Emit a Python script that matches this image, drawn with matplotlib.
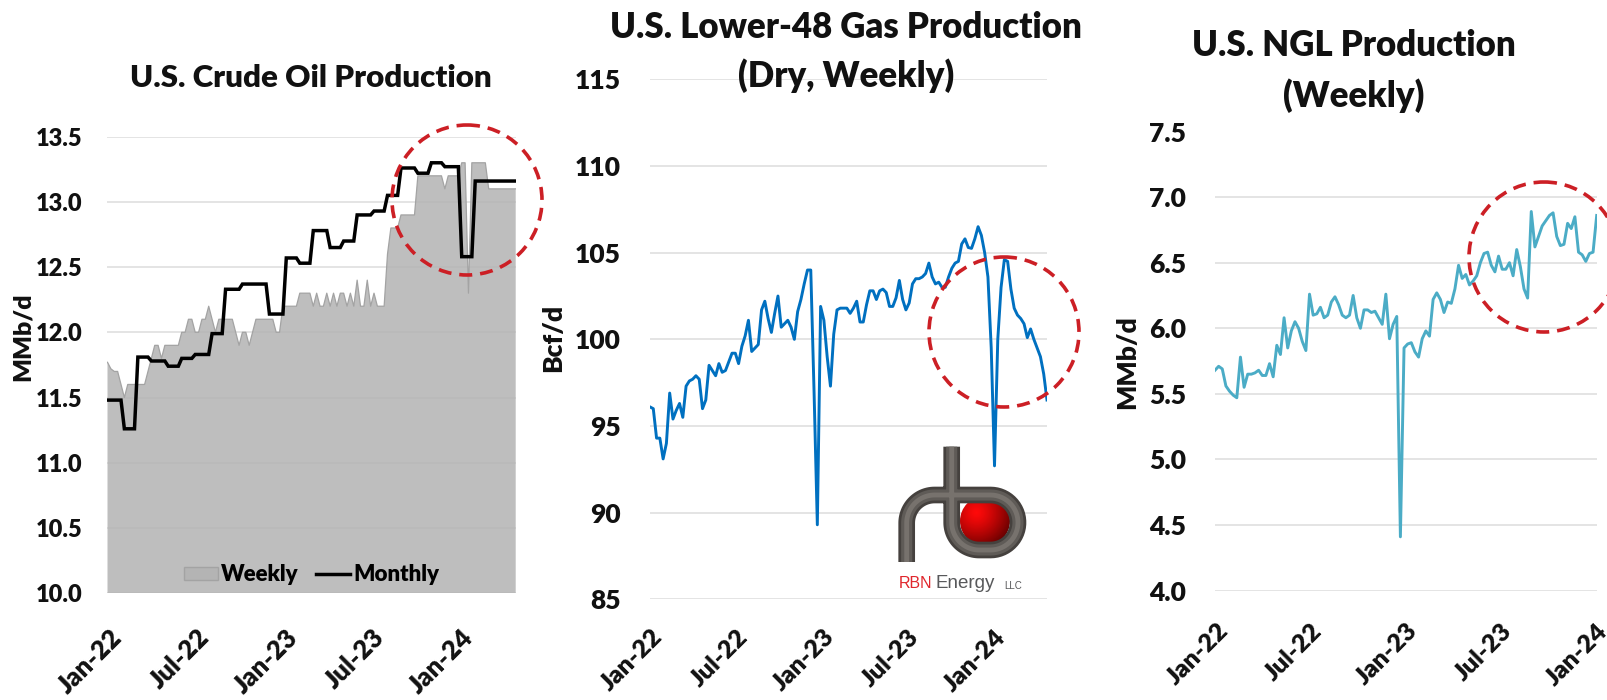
import numpy as np
import pandas as pd
import matplotlib
matplotlib.use("Agg")
import matplotlib.pyplot as plt
from matplotlib.patches import Circle, Patch
from matplotlib.lines import Line2D
from matplotlib.transforms import ScaledTranslation

plt.rcParams['font.family'] = ['Lato', 'DejaVu Sans']
plt.rcParams['font.weight'] = 'heavy'

# ---------------- data ----------------
start_date = "2021-12-31"   # weekly series (EIA weeks ending Friday)

crude_weekly = [
    11.77, 11.72, 11.7, 11.7, 11.6, 11.5, 11.6, 11.6, 11.6, 11.6, 11.6, 11.6,
    11.7, 11.8, 11.9, 11.9, 11.8, 11.9, 11.9, 11.9, 11.9, 11.9, 12.0, 12.0,
    12.1, 12.1, 12.0, 12.0, 12.1, 12.1, 12.2, 12.1, 12.0, 12.1, 12.1, 12.1,
    12.1, 12.1, 12.0, 11.9, 12.0, 12.0, 11.9, 12.0, 12.1, 12.1, 12.1, 12.1,
    12.1, 12.1, 12.0, 12.0, 12.2, 12.2, 12.2, 12.2, 12.2, 12.3, 12.3, 12.3,
    12.3, 12.2, 12.3, 12.2, 12.2, 12.3, 12.2, 12.3, 12.2, 12.3, 12.3, 12.2,
    12.3, 12.2, 12.4, 12.2, 12.2, 12.4, 12.2, 12.3, 12.2, 12.2, 12.2, 12.6,
    12.8, 12.8, 12.8, 12.9, 12.9, 12.9, 12.9, 12.9, 13.2, 13.2, 13.2, 13.2,
    13.2, 13.2, 13.2, 13.2, 13.1, 13.2, 13.2, 13.2, 13.2, 13.3, 13.3, 12.3,
    13.3, 13.3, 13.3, 13.3, 13.3, 13.1, 13.1, 13.1, 13.1, 13.1, 13.1, 13.1,
    13.1, 13.1,
]

# monthly crude, Jan-22 .. Apr-24
crude_monthly = [
    11.48, 11.26, 11.81, 11.78, 11.74, 11.80, 11.83, 11.99, 12.33, 12.37,
    12.37, 12.14, 12.57, 12.53, 12.78, 12.65, 12.70, 12.90, 12.93, 13.05,
    13.26, 13.22, 13.30, 13.27, 12.58, 13.16, 13.16, 13.16,
]

gas_weekly = [
    96.1, 96.0, 94.3, 94.3, 93.1, 94.0, 96.9, 95.4, 95.9, 96.3, 95.5, 97.3,
    97.6, 97.7, 97.9, 97.7, 96.0, 96.5, 98.5, 98.2, 97.9, 98.6, 98.1, 98.2,
    98.7, 99.2, 99.2, 98.6, 99.6, 100.2, 101.1, 99.3, 99.5, 99.7, 101.7, 102.2,
    101.2, 100.4, 101.5, 102.5, 100.7, 100.9, 101.1, 100.7, 100.0, 101.6, 102.3, 103.2,
    104.0, 104.0, 97.0, 89.3, 101.9, 101.1, 99.0, 97.3, 100.3, 101.7, 101.8, 101.8,
    101.8, 101.5, 101.8, 102.2, 101.0, 101.0, 102.0, 102.8, 102.8, 102.3, 102.8, 102.9,
    102.7, 101.9, 101.9, 102.4, 103.4, 102.3, 101.7, 102.1, 103.2, 103.5, 103.5, 103.6,
    103.8, 104.4, 103.6, 103.2, 103.3, 103.0, 103.0, 103.6, 104.1, 104.4, 104.5, 105.5,
    105.8, 105.3, 105.25, 105.8, 106.5, 106.0, 105.0, 103.6, 99.5, 92.7, 100.0, 103.0,
    104.6, 104.5, 102.9, 101.8, 101.4, 101.2, 100.9, 100.1, 100.6, 100.0, 99.5, 99.0,
    98.0, 96.5,
]

ngl_weekly = [
    5.68, 5.71, 5.69, 5.56, 5.52, 5.49, 5.47, 5.78, 5.55, 5.65, 5.65, 5.66,
    5.68, 5.64, 5.64, 5.73, 5.63, 5.87, 5.80, 6.08, 5.85, 5.98, 6.05, 6.00,
    5.90, 5.83, 6.26, 6.10, 6.11, 6.16, 6.08, 6.10, 6.20, 6.24, 6.18, 6.10,
    6.08, 6.10, 6.25, 6.08, 6.00, 6.14, 6.14, 6.12, 6.13, 6.08, 6.03, 6.26,
    5.92, 6.03, 6.09, 4.41, 5.85, 5.88, 5.89, 5.82, 5.78, 5.92, 5.98, 5.94,
    6.22, 6.27, 6.22, 6.12, 6.20, 6.19, 6.30, 6.48, 6.38, 6.41, 6.33, 6.36,
    6.40, 6.50, 6.57, 6.58, 6.48, 6.43, 6.55, 6.45, 6.45, 6.50, 6.40, 6.60,
    6.47, 6.30, 6.23, 6.89, 6.62, 6.70, 6.78, 6.82, 6.86, 6.88, 6.70, 6.63,
    6.64, 6.80, 6.76, 6.85, 6.58, 6.56, 6.51, 6.57, 6.58, 6.86,
]

tick_dates = ["2022-01-01", "2022-07-01", "2023-01-01", "2023-07-01", "2024-01-01"]
tick_labels = ["Jan-22", "Jul-22", "Jan-23", "Jul-23", "Jan-24"]

titles = ["U.S. Crude Oil Production",
          ["U.S. Lower-48 Gas Production", "(Dry, Weekly)"],
          ["U.S. NGL Production", "(Weekly)"]]
ylabels = ["MMb/d", "Bcf/d", "MMb/d"]

# ---------------- derived ----------------
crude_dates = pd.date_range(start_date, periods=len(crude_weekly), freq="7D")
gas_dates = pd.date_range(start_date, periods=len(gas_weekly), freq="7D")
ngl_dates = pd.date_range(start_date, periods=len(ngl_weekly), freq="7D")
mi = np.clip((crude_dates.year - 2022) * 12 + crude_dates.month - 1, 0, len(crude_monthly) - 1)
monthly_on_weeks = np.array(crude_monthly)[mi]
tdates = pd.to_datetime(tick_dates)

W, H = 1608, 700
fig = plt.figure(figsize=(W / 100, H / 100), dpi=100)


def rect(x0, ytop, x1, ybot):
    return [x0 / W, 1 - ybot / H, (x1 - x0) / W, (ybot - ytop) / H]


TXT = "#111111"
GRID = "#dcdcdc"


def style(ax, yticks, fmt, fs, xfs, xlim, ypad, xpad):
    for s in ax.spines.values():
        s.set_visible(False)
    ax.set_xlim(*xlim)
    ax.set_yticks(yticks)
    ax.set_yticklabels([fmt.format(v) for v in yticks], fontsize=fs, color=TXT)
    ax.set_ylim(yticks[0], yticks[-1])
    ax.set_xticks(tdates)
    ax.set_xticklabels(tick_labels, fontsize=xfs, color=TXT, rotation=45,
                       ha="right", va="top", rotation_mode="anchor")
    ax.tick_params(axis="y", length=0, pad=ypad)
    ax.tick_params(axis="x", length=0, pad=xpad)
    off = ScaledTranslation(1 / 100, 0, fig.dpi_scale_trans)
    for lab in ax.get_xticklabels():
        lab.set_transform(lab.get_transform() + off)
    ax.yaxis.grid(True, color=GRID, lw=1.1)
    ax.set_axisbelow(True)
    ax.patch.set_alpha(0)


# ---- panel 1: crude ----
ax1 = fig.add_axes(rect(107.5, 136.7, 515.7, 593.1))
ax1.fill_between(crude_dates, 10.0, crude_weekly, facecolor="#b3b3b3", alpha=0.85,
                 edgecolor="none", zorder=2)
ax1.plot(crude_dates, crude_weekly, color="#a3a3a3", lw=0.9, zorder=3)
ax1.plot(crude_dates, monthly_on_weeks, color="black", lw=2.5, zorder=4,
         solid_joinstyle="miter")
style(ax1, np.arange(10.0, 13.51, 0.5), "{:.1f}", 17, 18.5,
      (crude_dates[0], crude_dates[-1]), 18, 23)
handles = [Patch(facecolor="#b3b3b3", alpha=0.85, edgecolor="#a0a0a0", label="Weekly"),
           Line2D([], [], color="black", lw=2.5, label="Monthly")]
ax1.legend(handles=handles, loc="center", bbox_to_anchor=(0.5, 0.04), ncol=2,
           frameon=False, fontsize=16, handlelength=1.5, handleheight=0.55,
           handletextpad=0.15, columnspacing=0.8, borderpad=0)

# ---- panel 2: gas ----
ax2 = fig.add_axes(rect(650, 79.4, 1047, 599.3))
ax2.plot(gas_dates, gas_weekly, color="#0070c0", lw=2.1, zorder=3,
         solid_joinstyle="round")
style(ax2, np.arange(85, 116, 5), "{:.0f}", 19, 18, (gas_dates[0], gas_dates[-1]), 21, 19)

# ---- panel 3: NGL ----
ax3 = fig.add_axes(rect(1215, 131.5, 1596.7, 590.6))
ax3.plot(ngl_dates, ngl_weekly, color="#4bacc6", lw=2.1, zorder=3,
         solid_joinstyle="round")
style(ax3, np.arange(4.0, 7.51, 0.5), "{:.1f}", 19, 18, (ngl_dates[0], ngl_dates[-1]), 21, 21)

# ---------------- overlay (pixel coordinates) ----------------
ov = fig.add_axes([0, 0, 1, 1], zorder=10)
ov.set_xlim(0, W)
ov.set_ylim(H, 0)
ov.axis("off")
ov.patch.set_alpha(0)

ov.text(311, 78, titles[0], ha="center", va="center", fontsize=22.5, color=TXT)
ov.text(846, 27, titles[1][0], ha="center", va="center", fontsize=25, color=TXT)
ov.text(846, 76, titles[1][1], ha="center", va="center", fontsize=25, color=TXT)
ov.text(1354, 46, titles[2][0], ha="center", va="center", fontsize=25, color=TXT)
ov.text(1354, 96, titles[2][1], ha="center", va="center", fontsize=25, color=TXT)

ov.text(23, 337, ylabels[0], rotation=90, ha="center", va="center", fontsize=18, color=TXT)
ov.text(553, 338, ylabels[1], rotation=90, ha="center", va="center", fontsize=19, color=TXT)
ov.text(1127, 362, ylabels[2], rotation=90, ha="center", va="center", fontsize=19, color=TXT)

# red dashed highlight circles
for (cx, cy, r) in [(467, 200, 75), (1004, 332, 75), (1544, 257, 75)]:
    ov.add_patch(Circle((cx, cy), r, fill=False, edgecolor="#cc1f25", lw=2.6,
                        linestyle=(0, (3.6, 2.2))))

# ---- RBN logo ----
n = 80
u, v = np.meshgrid(np.linspace(-1, 1, n), np.linspace(-1, 1, n))
d = np.clip(np.hypot(u + 0.35, v + 0.35) / 1.6, 0, 1)
rgb = np.zeros((n, n, 3))
rgb[..., 0] = 1.0 - 0.65 * d ** 1.3
rgb[..., 1] = 0.04 * (1 - d)
rgb[..., 2] = 0.04 * (1 - d)
bx, by, br = 985, 521, 25
im = ov.imshow(rgb, extent=(bx - br, bx + br, by + br, by - br), origin="upper",
               interpolation="bilinear", zorder=5, aspect="auto")
im.set_clip_path(Circle((bx, by), br, transform=ov.transData))


def arc(cx, cy, r, a0, a1, k=30):
    t = np.radians(np.linspace(a0, a1, k))
    return list(cx + r * np.cos(t)), list(cy + r * np.sin(t))


px, py = [906.7, 906.7], [562.0, 523.0]
ax_, ay_ = arc(934.7, 523, 28, 180, 270); px += ax_; py += ay_
px += [990.5]; py += [495]
ax_, ay_ = arc(990.5, 522.5, 27.5, 270, 450); px += ax_; py += ay_
px += [979.2]; py += [550]
ax_, ay_ = arc(979.2, 522.5, 27.5, 90, 180); px += ax_; py += ay_
px += [951.7]; py += [446.7]
for lw, col in [(12.0, "#45413e"), (8.0, "#5f5b57"), (3.5, "#77726d")]:
    ov.plot(px, py, color=col, lw=lw, solid_capstyle="butt", solid_joinstyle="round",
            zorder=6)

logo_font = ["Liberation Sans", "DejaVu Sans"]
ov.text(899, 584, "RBN", color="#e0262c", fontsize=11.5, fontweight="normal",
        family=logo_font, ha="left", va="center", zorder=7)
ov.text(936, 584, "Energy", color="#58595b", fontsize=13.5, fontweight="normal",
        family=logo_font, ha="left", va="center", zorder=7)
ov.text(1004, 586, "LLC", color="#58595b", fontsize=7, fontweight="normal",
        family=logo_font, ha="left", va="center", zorder=7)

ov.set_xlim(0, W)
ov.set_ylim(H, 0)

fig.savefig("out.png", dpi=100)
